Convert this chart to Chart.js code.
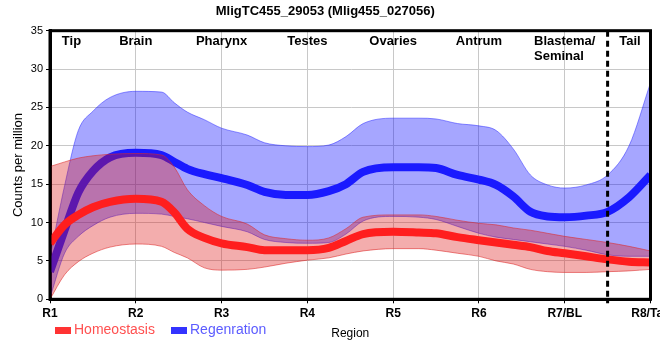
<!DOCTYPE html>
<html>
<head>
<meta charset="utf-8">
<script src="https://cdn.jsdelivr.net/npm/chart.js@4/dist/chart.umd.min.js"></script>
<style>
  html, body { margin: 0; padding: 0; background: #fff; }
  #wrap { width: 660px; height: 360px; }
</style>
</head>
<body>
<div id="wrap"><canvas id="c" width="660" height="360"></canvas></div>
<script>
// ---------- data ----------
const chartTitle = 'MligTC455_29053 (Mlig455_027056)';
const categories = ['R1', 'R2', 'R3', 'R4', 'R5', 'R6', 'R7/BL', 'R8/Tail'];
const regionNames = ['Tip', 'Brain', 'Pharynx', 'Testes', 'Ovaries', 'Antrum', 'Blastema/\nSeminal', 'Tail'];
const regionAt = [0.25, 1, 2, 3, 4, 5, 6, 6.76];
const boundaryAt = 6.5;
const yTicks = [0, 5, 10, 15, 20, 25, 30, 35];

// sample positions along the body axis (0 = R1 ... 7 = R8)
const xs = [0, 0.17, 0.33, 0.5, 0.7, 1, 1.3, 1.45, 1.6, 1.8, 2, 2.3, 2.5, 2.75, 3, 3.25,
            3.45, 3.65, 4, 4.3, 4.5, 4.75, 5, 5.2, 5.4, 5.6, 5.8, 6, 6.25, 6.5, 6.75, 7];

const homeoMean  = [7.3, 9.7, 11.0, 12.0, 12.7, 13.1, 12.7, 11.3, 9.2, 8.0, 7.3, 6.8, 6.4, 6.4, 6.4, 6.7,
                    7.6, 8.5, 8.8, 8.7, 8.6, 8.1, 7.7, 7.4, 7.1, 6.8, 6.3, 6.0, 5.6, 5.2, 4.9, 4.8];
const homeoUpper = [17.3, 17.9, 18.4, 18.7, 18.9, 19.0, 18.8, 17.2, 14.3, 12.2, 10.8, 9.8, 8.4, 7.9, 7.7, 8.0,
                    9.2, 10.7, 11.0, 11.0, 10.8, 10.3, 9.9, 9.7, 9.3, 9.0, 8.6, 8.2, 7.8, 7.4, 6.9, 6.3];
const homeoLower = [0, 3.2, 4.9, 6.0, 6.8, 7.2, 6.9, 6.1, 5.4, 4.1, 3.8, 3.9, 4.2, 4.7, 5.1, 5.4,
                    5.9, 6.3, 6.6, 6.6, 6.4, 6.0, 5.6, 5.0, 4.6, 3.9, 3.6, 3.5, 3.5, 3.6, 3.7, 3.9];

const regenMean  = [3.6, 9.0, 13.9, 16.7, 18.5, 19.1, 18.8, 17.9, 17.0, 16.3, 15.8, 14.9, 14.0, 13.6, 13.6, 14.1,
                    15.0, 16.6, 17.2, 17.2, 17.1, 16.2, 15.6, 14.9, 13.4, 11.4, 10.8, 10.7, 10.9, 11.4, 13.3, 16.2];
const regenUpper = [5.5, 14.8, 22.0, 24.5, 26.3, 27.1, 27.0, 25.6, 24.4, 23.4, 22.3, 21.4, 20.4, 20.0, 19.9, 20.1,
                    21.2, 22.9, 23.6, 23.6, 23.5, 22.9, 22.6, 22.0, 19.6, 16.2, 14.9, 14.5, 14.9, 16.2, 20.0, 28.2];
const regenLower = [0.2, 6.0, 8.2, 9.6, 10.7, 11.2, 11.1, 10.8, 10.5, 10.0, 9.5, 8.8, 7.8, 7.4, 7.3, 7.4,
                    8.5, 10.2, 10.8, 10.7, 10.4, 9.5, 8.6, 8.1, 7.8, 7.5, 7.2, 6.9, 6.4, 5.8, 5.6, 5.6];

const seriesNames = ['Homeostasis', 'Regenration'];

// ---------- helpers ----------
const pts = arr => xs.map((x, i) => ({ x: x, y: arr[i] }));
const FONT = '"Liberation Sans", Arial, sans-serif';

const RED_LINE = '#ff1e1e', BLUE_LINE = '#1a1aff';
const RED_FILL = 'rgba(220,20,20,0.35)', BLUE_FILL = 'rgba(0,0,255,0.35)';
const RED_EDGE = 'rgba(220,40,40,0.55)', BLUE_EDGE = 'rgba(40,40,255,0.5)';

function lineDs(label, data, color) {
  return { label, data: pts(data), borderColor: color, backgroundColor: color, borderWidth: 8,
           pointRadius: 0, fill: false, cubicInterpolationMode: 'monotone', borderCapStyle: 'butt' };
}
function edgeDs(label, data, edge, fill, fillColor) {
  return { label, data: pts(data), borderColor: edge, backgroundColor: fillColor || 'transparent',
           borderWidth: 1, pointRadius: 0, fill: fill, cubicInterpolationMode: 'monotone' };
}

// draw order: last dataset first
const datasets = [
  lineDs(seriesNames[0], homeoMean, RED_LINE),                       // 0 top
  edgeDs('homeoUpper', homeoUpper, RED_EDGE, 2, RED_FILL),           // 1
  edgeDs('homeoLower', homeoLower, RED_EDGE, false),                 // 2
  lineDs(seriesNames[1], regenMean, BLUE_LINE),                      // 3
  edgeDs('regenUpper', regenUpper, BLUE_EDGE, 5, BLUE_FILL),         // 4
  edgeDs('regenLower', regenLower, BLUE_EDGE, false)                 // 5 bottom
];

const overlay = {
  id: 'overlay',
  afterDatasetsDraw(chart) {
    const { ctx, chartArea: a, scales: { x } } = chart;
    ctx.save();
    // boundary dashed line
    const bx = x.getPixelForValue(boundaryAt);
    ctx.strokeStyle = '#000';
    ctx.lineWidth = 3;
    ctx.setLineDash([6, 4]);
    ctx.beginPath();
    ctx.moveTo(bx, a.top);
    ctx.lineTo(bx, a.bottom + 4);
    ctx.stroke();
    ctx.setLineDash([]);
    // frame
    ctx.lineWidth = 3;
    ctx.strokeRect(a.left, a.top, a.right - a.left, a.bottom - a.top);
    // region labels
    ctx.fillStyle = '#000';
    ctx.font = 'bold 13px ' + FONT;
    ctx.textBaseline = 'alphabetic';
    regionNames.forEach((name, i) => {
      const lines = name.split('\n');
      const cx = x.getPixelForValue(regionAt[i]);
      const w0 = ctx.measureText(lines[0]).width;
      const left = cx - w0 / 2;
      lines.forEach((ln, j) => {
        ctx.textAlign = 'left';
        ctx.fillText(ln, left, a.top + 14.5 + j * 14.3);
      });
    });
    ctx.restore();
  },
  afterDraw(chart) {
    const { ctx } = chart;
    ctx.save();
    const items = [
      { text: chart.data.datasets[0].label, box: '#ff3333', color: '#ff5050', bx: 55 },
      { text: chart.data.datasets[3].label, box: '#3333ff', color: '#5c5cff', bx: 171 }
    ];
    ctx.font = '14px ' + FONT;
    ctx.textBaseline = 'middle';
    ctx.textAlign = 'left';
    items.forEach(it => {
      ctx.fillStyle = it.box;
      ctx.fillRect(it.bx, 327, 16, 7);
      ctx.fillStyle = it.color;
      ctx.fillText(it.text, it.bx + 19, 330.5);
    });
    ctx.restore();
  }
};

new Chart(document.getElementById('c'), {
  type: 'line',
  data: { datasets },
  options: {
    responsive: false,
    animation: false,
    layout: { padding: { top: 0, right: 9.5, bottom: 18.7, left: 0 } },
    plugins: {
      legend: { display: false },
      tooltip: { enabled: false },
      title: {
        display: true, text: chartTitle, color: '#000',
        font: { family: FONT, size: 13, weight: 'bold' },
        padding: { top: 4, bottom: 11.1 }
      }
    },
    scales: {
      x: {
        type: 'linear', min: 0, max: categories.length - 1,
        afterBuildTicks(s) { s.ticks = categories.map((c, i) => ({ value: i })); },
        afterFit(s) { s.height = 42; s.paddingLeft = 0; s.paddingRight = 0; },
        ticks: {
          autoSkip: false, maxRotation: 0, color: '#000', padding: 3,
          font: { family: FONT, size: 12, weight: 'bold' },
          callback: v => categories[v]
        },
        grid: { color: '#c8c8c8', lineWidth: 1, tickLength: 4, tickColor: '#000' },
        border: { display: true, color: '#000', width: 3 },
        title: { display: true, text: 'Region', color: '#000', font: { family: FONT, size: 12 },
                 padding: { top: 4, bottom: 0 } }
      },
      y: {
        min: 0, max: 35,
        afterBuildTicks(s) { s.ticks = yTicks.map(v => ({ value: v })); },
        afterFit(s) { s.width = 50; },
        ticks: { color: '#000', padding: 3, font: { family: FONT, size: 11 } },
        grid: { color: '#c8c8c8', lineWidth: 1, tickLength: 4, tickColor: '#000' },
        border: { display: true, color: '#000', width: 3 },
        title: { display: true, text: 'Counts per million', color: '#000',
                 font: { family: FONT, size: 13 }, padding: { top: 11, bottom: 0 } }
      }
    }
  },
  plugins: [overlay]
});
</script>
</body>
</html>
